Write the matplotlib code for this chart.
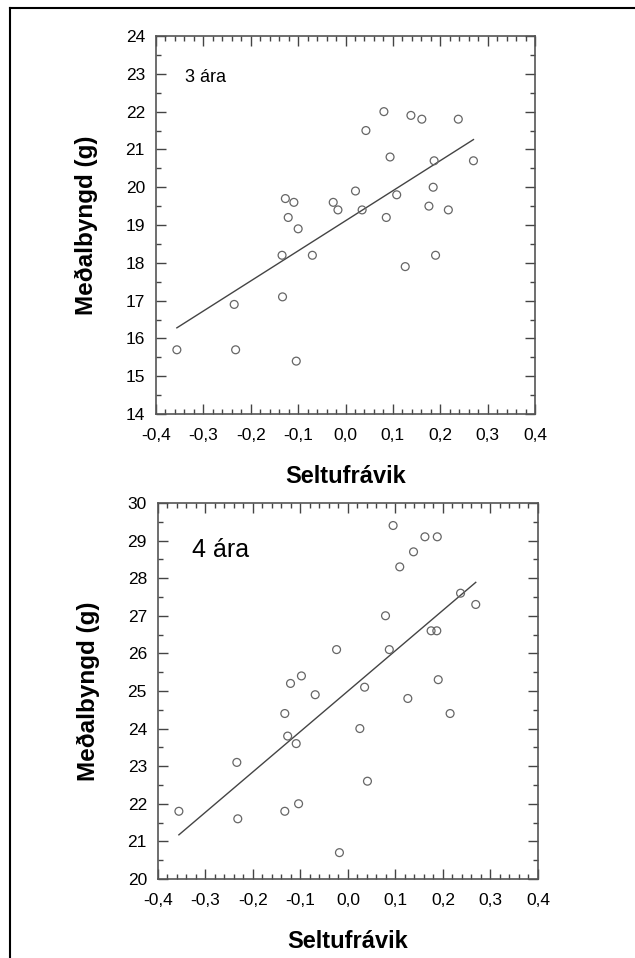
import numpy as np
import matplotlib
matplotlib.use("Agg")
import matplotlib.pyplot as plt
from matplotlib.ticker import MultipleLocator, FuncFormatter
from matplotlib.lines import Line2D

plt.rcParams['font.family'] = ['Liberation Sans', 'DejaVu Sans']

# 3 ára
x3 = [0.081, 0.138, 0.161, 0.238, 0.043, 0.094, 0.187, 0.270, 0.185, 0.021,
      0.108, -0.127, -0.109, -0.026, 0.176, -0.016, 0.035, 0.217, -0.121, 0.086,
      -0.100, -0.134, -0.070, 0.190, 0.126, -0.133, -0.235, -0.356, -0.232, -0.104]
y3 = [22.0, 21.9, 21.8, 21.8, 21.5, 20.8, 20.7, 20.7, 20.0, 19.9,
      19.8, 19.7, 19.6, 19.6, 19.5, 19.4, 19.4, 19.4, 19.2, 19.2,
      18.9, 18.2, 18.2, 18.2, 17.9, 17.1, 16.9, 15.7, 15.7, 15.4]

# 4 ára
x4 = [0.095, 0.162, 0.188, 0.138, 0.109, 0.237, 0.269, 0.079, 0.175, 0.187,
      -0.024, 0.087, -0.098, -0.121, 0.035, 0.190, -0.069, 0.126, -0.133, 0.215,
      0.025, -0.127, -0.109, -0.234, 0.041, -0.104, -0.133, -0.356, -0.232, -0.018]
y4 = [29.4, 29.1, 29.1, 28.7, 28.3, 27.6, 27.3, 27.0, 26.6, 26.6,
      26.1, 26.1, 25.4, 25.2, 25.1, 25.3, 24.9, 24.8, 24.4, 24.4,
      24.0, 23.8, 23.6, 23.1, 22.6, 22.0, 21.8, 21.8, 21.6, 20.7]

panels = [
    (x3, y3, "3 ára", 13, (14, 24), [0.2457, 0.5678, 0.5969, 0.3946], (0.077, 0.878)),
    (x4, y4, "4 ára", 18, (20, 30), [0.2488, 0.0825, 0.5984, 0.3925], (0.089, 0.856)),
]

fig = plt.figure(figsize=(6.35, 9.58), dpi=100)

comma = FuncFormatter(lambda v, p: f"{v:.1f}".replace(".", ",").replace("-0,0", "0,0"))

for xs, ys, label, lsize, ylim, pos, tpos in panels:
    ax = fig.add_axes(pos)
    xs = np.array(xs)
    ys = np.array(ys)
    ax.scatter(xs, ys, s=32, facecolors='none', edgecolors='#666666', linewidths=0.9, zorder=3)
    b, a = np.polyfit(xs, ys, 1)
    xl = np.array([xs.min(), xs.max()])
    ax.plot(xl, a + b * xl, color='#444444', lw=1.0)
    ax.set_xlim(-0.4, 0.4)
    ax.set_ylim(*ylim)
    ax.xaxis.set_major_locator(MultipleLocator(0.1))
    ax.xaxis.set_minor_locator(MultipleLocator(0.02))
    ax.yaxis.set_major_locator(MultipleLocator(1))
    ax.yaxis.set_minor_locator(MultipleLocator(0.5))
    ax.xaxis.set_major_formatter(comma)
    ax.tick_params(which='both', direction='in', top=True, right=True, color='#444444', width=1.0)
    ax.tick_params(which='major', length=7, labelsize=12.5)
    ax.tick_params(axis='x', which='major', pad=10)
    ax.tick_params(axis='y', which='major', pad=8)
    ax.tick_params(which='minor', length=3.5)
    for s in ax.spines.values():
        s.set_color('#555555')
        s.set_linewidth(1.2)
    ax.set_xlabel("Seltufrávik", fontsize=17, fontweight='bold', labelpad=16)
    ax.set_ylabel("Meðalbyngd (g)", fontsize=17.5, fontweight='bold', labelpad=20)
    ax.text(tpos[0], tpos[1], label, transform=ax.transAxes, fontsize=lsize, va='baseline')

# outer frame (open on right and bottom)
fig.add_artist(Line2D([10 / 635, 1.0], [1 - 8 / 958, 1 - 8 / 958], color='black', lw=1.5, transform=fig.transFigure))
fig.add_artist(Line2D([10 / 635, 10 / 635], [0.0, 1 - 8 / 958], color='black', lw=1.5, transform=fig.transFigure))

fig.savefig("out.png", dpi=100)
